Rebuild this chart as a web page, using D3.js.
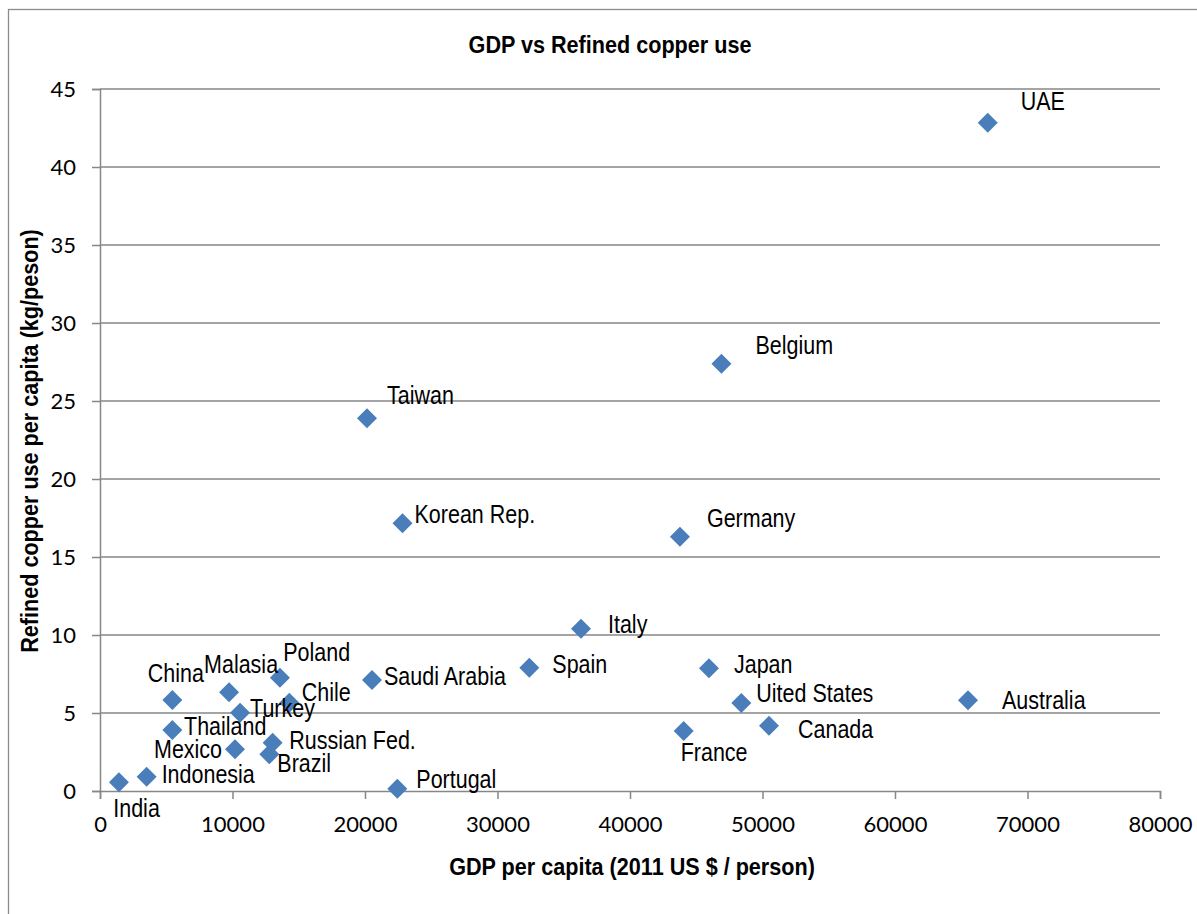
<!DOCTYPE html>
<html>
<head>
<meta charset="utf-8">
<script src="https://cdn.jsdelivr.net/npm/d3@7"></script>
<style>
  html, body { margin: 0; padding: 0; background: #fff; }
  svg { display: block; }
</style>
</head>
<body>
<svg id="chart" width="1197" height="914"></svg>
<script>
// ---- data ----
const countries = ["UAE","Belgium","Germany","Japan","Uited States","Australia","Canada","France",
  "Taiwan","Korean Rep.","Italy","Spain","Saudi Arabia","Portugal",
  "China","Malasia","Poland","Chile","Turkey","Thailand","Mexico","Russian Fed.","Brazil","Indonesia","India"];
const gdpPerCapita = [67000,46900,43770,45960,48400,65510,50490,44050,
  20150,22830,36300,32400,20530,22440,
  5460,9740,13580,14290,10570,5460,10190,13030,12780,3520,1430];
const copperPerCapita = [42.84,27.39,16.3,7.87,5.64,5.81,4.19,3.85,
  23.9,17.16,10.4,7.9,7.12,0.15,
  5.83,6.33,7.26,5.66,5.02,3.91,2.67,3.1,2.35,0.92,0.56];
const xTicks = [0,10000,20000,30000,40000,50000,60000,70000,80000];
const yTicks = [0,5,10,15,20,25,30,35,40,45];
const chartTitle = "GDP vs Refined copper use";
const xTitle = "GDP per capita (2011 US $ / person)";
const yTitle = "Refined copper use per capita (kg/peson)";

// label placement offsets (layout, relative to each marker)
const labelOffsets = [[33,-13],[34,-10],[27,-9.5],[25,4.5],[15,-1],[34,9],[29,12.6],[-3,30],
  [20,-14],[12,0],[27,4.6],[23,5],[12,5],[19,-1],
  [-24.6,-18.3],[-25,-19.6],[3.3,-16.4],[12.4,-1.7],[10,4],[11.7,5],[-81,9],[16.6,6.6],[8,17.4],[15,6.6],[-5.7,34.7]];

// ---- layout ----
const svg = d3.select("#chart");
const mLeft = 100, mRight = 1160, mTop = 89, mBottom = 791;
const x = d3.scaleLinear().domain([0, 80000]).range([mLeft, mRight]);
const y = d3.scaleLinear().domain([0, 45]).range([mBottom, mTop]);
const grid = "#878787";

svg.append("rect").attr("width",1197).attr("height",914).attr("fill","#fff");
// outer chart border (extends past the view on right/bottom)
svg.append("rect").attr("x",8.5).attr("y",9.5).attr("width",1300).attr("height",1000)
  .attr("fill","none").attr("stroke","#8c8c8c").attr("stroke-width",1.3);

// gridlines
svg.append("g").selectAll("line").data(yTicks.filter(d => d > 0)).join("line")
  .attr("x1", mLeft).attr("x2", mRight)
  .attr("y1", d => y(d)).attr("y2", d => y(d))
  .attr("stroke", grid).attr("stroke-width", 1.5);

// y axis
const yAxis = d3.axisLeft(y).tickValues(yTicks).tickSize(8).tickPadding(16).tickFormat(d3.format("d"));
const gy = svg.append("g").attr("transform", `translate(${mLeft},0)`).call(yAxis);
gy.select(".domain").attr("stroke", grid).attr("stroke-width", 1.5);
gy.selectAll(".tick line").attr("stroke", grid).attr("stroke-width", 1.5);
gy.selectAll(".tick text").attr("font-family", "Lato, 'Open Sans', sans-serif")
  .attr("font-size", 22).attr("fill", "#000");

// x axis
const xAxis = d3.axisBottom(x).tickValues(xTicks).tickSize(8).tickPadding(17).tickFormat(d3.format("d"));
const gx = svg.append("g").attr("transform", `translate(0,${mBottom})`).call(xAxis);
gx.select(".domain").attr("stroke", grid).attr("stroke-width", 1.5);
gx.selectAll(".tick line").attr("stroke", grid).attr("stroke-width", 1.5);
gx.selectAll(".tick text").attr("font-family", "Lato, 'Open Sans', sans-serif")
  .attr("font-size", 22).attr("fill", "#000");

// markers
const diamond = d3.symbol().type(d3.symbolSquare).size(200);
const pts = countries.map((c, i) => ({c, gx: gdpPerCapita[i], cu: copperPerCapita[i], off: labelOffsets[i]}));
svg.append("g").selectAll("path").data(pts).join("path")
  .attr("d", diamond)
  .attr("transform", d => `translate(${x(d.gx)},${y(d.cu)}) rotate(45)`)
  .attr("fill", "#4A7EBB");

// data labels
svg.append("g").selectAll("text").data(pts).join("text")
  .attr("transform", d => `translate(${x(d.gx) + d.off[0]},${y(d.cu) + d.off[1]}) scale(0.86,1)`)
  .attr("font-family", "'Liberation Sans', Arial, sans-serif")
  .attr("font-size", 25).attr("fill", "#000")
  .text(d => d.c);

// titles
svg.append("text")
  .attr("transform", `translate(610,53) scale(0.9,1)`)
  .attr("text-anchor","middle")
  .attr("font-family","'Liberation Sans', Arial, sans-serif").attr("font-weight","bold")
  .attr("font-size",24).text(chartTitle);
svg.append("text")
  .attr("transform", `translate(632,875) scale(0.9,1)`)
  .attr("text-anchor","middle")
  .attr("font-family","'Liberation Sans', Arial, sans-serif").attr("font-weight","bold")
  .attr("font-size",24).text(xTitle);
svg.append("text")
  .attr("transform", `translate(38,441) rotate(-90) scale(0.9,1)`)
  .attr("text-anchor","middle")
  .attr("font-family","'Liberation Sans', Arial, sans-serif").attr("font-weight","bold")
  .attr("font-size",24).text(yTitle);
</script>
</body>
</html>
